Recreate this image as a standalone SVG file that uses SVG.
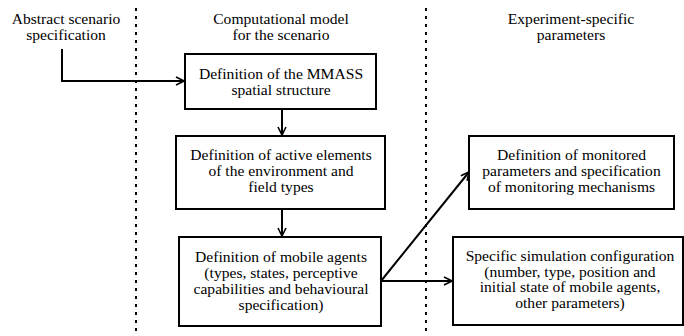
<svg xmlns="http://www.w3.org/2000/svg" width="684" height="336" viewBox="0 0 684 336">
<defs>
<style>
text{font-family:'Liberation Serif','Times New Roman',serif;font-size:15.6px;fill:#000;text-anchor:middle}
.box{fill:#fff;stroke:#000;stroke-width:2}
.sep{stroke:#000;stroke-width:2;stroke-dasharray:3 5;fill:none}
.conn{stroke:#000;stroke-width:2;fill:none;marker-end:url(#arr)}
</style>
<marker id="arr" viewBox="0 0 10 10" refX="9" refY="5" markerWidth="10" markerHeight="10" markerUnits="userSpaceOnUse" orient="auto">
<path d="M1,1 L9,5 L1,9" fill="none" stroke="#000" stroke-width="1.6"/>
</marker>
</defs>
<rect width="684" height="336" fill="#fff"/>
<g id="separators">
<line class="sep" x1="136" y1="8" x2="136" y2="336"/>
<line class="sep" x1="426" y1="8" x2="426" y2="336"/>
</g>
<g id="headers">
<text x="66" y="24">Abstract scenario</text>
<text x="66" y="40">specification</text>
<text x="281" y="24">Computational model</text>
<text x="281" y="40">for the scenario</text>
<text x="571" y="24">Experiment-specific</text>
<text x="571" y="40">parameters</text>
</g>
<g id="connectors">
<path class="conn" d="M62,49 L62,81 L184,81"/>
<path class="conn" d="M282,109 L282,135"/>
<path class="conn" d="M282,209 L282,236"/>
<path class="conn" d="M381,281 L469,172"/>
<path class="conn" d="M381,281 L452,281"/>
</g>
<g id="node1">
<rect class="box" x="185" y="54" width="191" height="55"/>
<text x="281" y="79">Definition of the MMASS</text>
<text x="281" y="95">spatial structure</text>
</g>
<g id="node2">
<rect class="box" x="176" y="136" width="209" height="73"/>
<text x="281" y="160">Definition of active elements</text>
<text x="281" y="176">of the environment and</text>
<text x="281" y="192">field types</text>
</g>
<g id="node3">
<rect class="box" x="179" y="237" width="202" height="89"/>
<text x="281" y="262">Definition of mobile agents</text>
<text x="281" y="278">(types, states, perceptive</text>
<text x="281" y="294">capabilities and behavioural</text>
<text x="281" y="310">specification)</text>
</g>
<g id="node4">
<rect class="box" x="469" y="136" width="205" height="73"/>
<text x="571.5" y="160">Definition of monitored</text>
<text x="571.5" y="176">parameters and specification</text>
<text x="571.5" y="192">of monitoring mechanisms</text>
</g>
<g id="node5">
<rect class="box" x="453" y="237" width="230" height="88"/>
<text x="570" y="261">Specific simulation configuration</text>
<text x="570" y="276.5">(number, type, position and</text>
<text x="570" y="292">initial state of mobile agents,</text>
<text x="570" y="307.5">other parameters)</text>
</g>
</svg>
